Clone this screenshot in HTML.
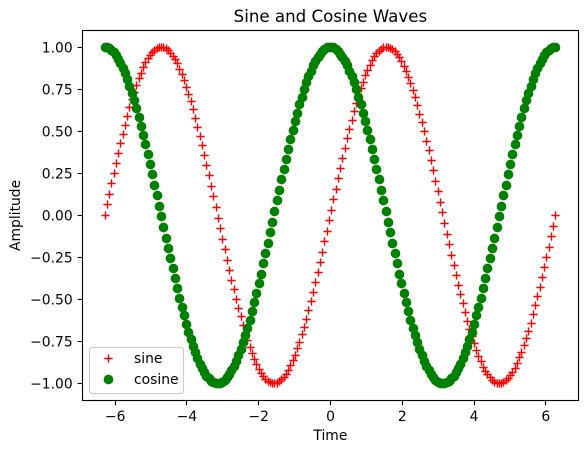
<!DOCTYPE html>
<html lang="en">
<head>
<meta charset="utf-8">
<title>Sine and Cosine Waves</title>
<style>
html,body{margin:0;padding:0;background:#fff;}
svg{display:block;font-family:"DejaVu Sans","Liberation Sans",sans-serif;}
text{fill:#000;font-size:13.89px;}
</style>
</head>
<body>
<svg id="chart" xmlns="http://www.w3.org/2000/svg" width="587" height="453" viewBox="0 0 587 453">
  <rect x="82.5" y="30.5" width="496" height="370" fill="#fff"/>
  <g id="sine-series"></g>
  <g id="cosine-series"></g>
  <g id="x-axis"></g>
  <g id="y-axis"></g>
  <rect x="82.5" y="30.5" width="496" height="370" fill="none" stroke="#000" stroke-width="1.11"/>
  <text x="330.4" y="22" text-anchor="middle" style="font-size:16.67px">Sine and Cosine Waves</text>
  <text x="330.4" y="440" text-anchor="middle">Time</text>
  <text transform="translate(20,215.4) rotate(-90)" text-anchor="middle">Amplitude</text>
  <g>
    <rect x="89.5" y="347.5" width="94" height="46" rx="2.8" ry="2.8" fill="#fff" fill-opacity="0.8" stroke="#ccc" stroke-width="1.11"/>
    <path d="M104.33 358.5H112.67M108.5 354.33V362.67" stroke="#f00" stroke-width="1.39" fill="none"/>
    <text x="134" y="363">sine</text>
    <circle cx="108.5" cy="379.5" r="4.86" fill="#008000"/>
    <text x="134" y="384">cosine</text>
  </g>
</svg>
<script>
const timeValues = [
-6.283,-6.220,-6.157,-6.094,-6.031,-5.968,-5.904,-5.841,-5.778,-5.715,
-5.652,-5.589,-5.525,-5.462,-5.399,-5.336,-5.273,-5.210,-5.147,-5.083,
-5.020,-4.957,-4.894,-4.831,-4.768,-4.705,-4.641,-4.578,-4.515,-4.452,
-4.389,-4.326,-4.262,-4.199,-4.136,-4.073,-4.010,-3.947,-3.884,-3.820,
-3.757,-3.694,-3.631,-3.568,-3.505,-3.442,-3.378,-3.315,-3.252,-3.189,
-3.126,-3.063,-2.999,-2.936,-2.873,-2.810,-2.747,-2.684,-2.621,-2.557,
-2.494,-2.431,-2.368,-2.305,-2.242,-2.178,-2.115,-2.052,-1.989,-1.926,
-1.863,-1.800,-1.736,-1.673,-1.610,-1.547,-1.484,-1.421,-1.358,-1.294,
-1.231,-1.168,-1.105,-1.042,-0.979,-0.915,-0.852,-0.789,-0.726,-0.663,
-0.600,-0.537,-0.473,-0.410,-0.347,-0.284,-0.221,-0.158,-0.095,-0.032,
0.032,0.095,0.158,0.221,0.284,0.347,0.410,0.473,0.537,0.600,
0.663,0.726,0.789,0.852,0.915,0.979,1.042,1.105,1.168,1.231,
1.294,1.358,1.421,1.484,1.547,1.610,1.673,1.736,1.800,1.863,
1.926,1.989,2.052,2.115,2.178,2.242,2.305,2.368,2.431,2.494,
2.557,2.621,2.684,2.747,2.810,2.873,2.936,2.999,3.063,3.126,
3.189,3.252,3.315,3.378,3.442,3.505,3.568,3.631,3.694,3.757,
3.820,3.884,3.947,4.010,4.073,4.136,4.199,4.262,4.326,4.389,
4.452,4.515,4.578,4.641,4.705,4.768,4.831,4.894,4.957,5.020,
5.083,5.147,5.210,5.273,5.336,5.399,5.462,5.525,5.589,5.652,
5.715,5.778,5.841,5.904,5.968,6.031,6.094,6.157,6.220,6.283
];
const sineValues = [
0,.063,.126,.188,.250,.311,.370,.428,.484,.538,
.590,.640,.687,.732,.773,.812,.847,.879,.907,.932,
.953,.970,.984,.993,.999,1.000,.998,.991,.981,.966,
.948,.926,.901,.871,.839,.803,.763,.721,.676,.628,
.578,.525,.470,.414,.355,.296,.235,.173,.110,.047,
-.016,-.079,-.142,-.204,-.265,-.326,-.385,-.442,-.498,-.551,
-.603,-.652,-.699,-.743,-.783,-.821,-.855,-.886,-.914,-.938,
-.958,-.974,-.986,-.995,-.999,-1.000,-.996,-.989,-.977,-.962,
-.943,-.920,-.894,-.863,-.830,-.793,-.753,-.710,-.664,-.616,
-.565,-.511,-.456,-.399,-.340,-.280,-.219,-.157,-.095,-.032,
.032,.095,.157,.219,.280,.340,.399,.456,.511,.565,
.616,.664,.710,.753,.793,.830,.863,.894,.920,.943,
.962,.977,.989,.996,1.000,.999,.995,.986,.974,.958,
.938,.914,.886,.855,.821,.783,.743,.699,.652,.603,
.551,.498,.442,.385,.326,.265,.204,.142,.079,.016,
-.047,-.110,-.173,-.235,-.296,-.355,-.414,-.470,-.525,-.578,
-.628,-.676,-.721,-.763,-.803,-.839,-.871,-.901,-.926,-.948,
-.966,-.981,-.991,-.998,-1.000,-.999,-.993,-.984,-.970,-.953,
-.932,-.907,-.879,-.847,-.812,-.773,-.732,-.687,-.640,-.590,
-.538,-.484,-.428,-.370,-.311,-.250,-.188,-.126,-.063,0
];
const cosineValues = [
1.000,.998,.992,.982,.968,.951,.929,.904,.875,.843,
.807,.768,.726,.682,.634,.584,.532,.477,.421,.363,
.303,.242,.181,.118,.055,-.008,-.071,-.134,-.196,-.258,
-.318,-.377,-.435,-.491,-.545,-.597,-.646,-.693,-.737,-.778,
-.816,-.851,-.883,-.911,-.935,-.955,-.972,-.985,-.994,-.999,
-1.000,-.997,-.990,-.979,-.964,-.946,-.923,-.897,-.867,-.834,
-.798,-.758,-.715,-.670,-.622,-.571,-.518,-.463,-.406,-.348,
-.288,-.227,-.165,-.102,-.040,.024,.087,.149,.212,.273,
.333,.392,.449,.505,.558,.609,.658,.704,.748,.788,
.825,.859,.890,.917,.940,.960,.976,.988,.996,.999,
.999,.996,.988,.976,.960,.940,.917,.890,.859,.825,
.788,.748,.704,.658,.609,.558,.505,.449,.392,.333,
.273,.212,.149,.087,.024,-.040,-.102,-.165,-.227,-.288,
-.348,-.406,-.463,-.518,-.571,-.622,-.670,-.715,-.758,-.798,
-.834,-.867,-.897,-.923,-.946,-.964,-.979,-.990,-.997,-1.000,
-.999,-.994,-.985,-.972,-.955,-.935,-.911,-.883,-.851,-.816,
-.778,-.737,-.693,-.646,-.597,-.545,-.491,-.435,-.377,-.318,
-.258,-.196,-.134,-.071,-.008,.055,.118,.181,.242,.303,
.363,.421,.477,.532,.584,.634,.682,.726,.768,.807,
.843,.875,.904,.929,.951,.968,.982,.992,.998,1.000
];
const xTickValues = [-6,-4,-2,0,2,4,6];
const xTickLabels = ["\u22126","\u22124","\u22122","0","2","4","6"];
const yTickValues = [-1,-0.75,-0.5,-0.25,0,0.25,0.5,0.75,1];
const yTickLabels = ["\u22121.00","\u22120.75","\u22120.50","\u22120.25","0.00","0.25","0.50","0.75","1.00"];

const NS = "http://www.w3.org/2000/svg";
const plotLeft = 82.5, plotRight = 578.5, plotTop = 30.5, plotBottom = 400.5;
const xMin = -6.9115, xMax = 6.9115, yMin = -1.1, yMax = 1.1;
function xScale(v){ return plotLeft + (v - xMin) / (xMax - xMin) * (plotRight - plotLeft); }
function yScale(v){ return plotBottom - (v - yMin) / (yMax - yMin) * (plotBottom - plotTop); }
function snap(p){ return Math.round(p - 0.5) + 0.5; }
function snapMarker(p){ return Math.floor(p) + 0.5; }

const sineGroup = document.getElementById("sine-series");
const cosineGroup = document.getElementById("cosine-series");
const xAxis = document.getElementById("x-axis");
const yAxis = document.getElementById("y-axis");
const arm = 4.17;

sineValues.forEach(function(v, i){
  const cx = snapMarker(xScale(timeValues[i])), cy = snapMarker(yScale(v));
  const el = document.createElementNS(NS, "path");
  el.setAttribute("d", "M" + (cx - arm) + " " + cy + "H" + (cx + arm) + "M" + cx + " " + (cy - arm) + "V" + (cy + arm));
  el.setAttribute("stroke", "#f00");
  el.setAttribute("stroke-width", "1.39");
  el.setAttribute("fill", "none");
  
  
  sineGroup.appendChild(el);
});

cosineValues.forEach(function(v, i){
  const el = document.createElementNS(NS, "circle");
  el.setAttribute("cx", snapMarker(xScale(timeValues[i])));
  el.setAttribute("cy", snapMarker(yScale(v)));
  el.setAttribute("r", "4.86");
  el.setAttribute("fill", "#008000");
  
  
  cosineGroup.appendChild(el);
});

xTickValues.forEach(function(v, i){
  const px = snap(xScale(v));
  const tick = document.createElementNS(NS, "line");
  tick.setAttribute("x1", px);
  tick.setAttribute("x2", px);
  tick.setAttribute("y1", plotBottom);
  tick.setAttribute("y2", plotBottom + 4.86);
  tick.setAttribute("stroke", "#000");
  tick.setAttribute("stroke-width", "1.11");
  
  
  xAxis.appendChild(tick);
  const label = document.createElementNS(NS, "text");
  label.setAttribute("x", xScale(v));
  label.setAttribute("y", 421);
  label.setAttribute("text-anchor", "middle");
  label.textContent = xTickLabels[i];
  
  
  xAxis.appendChild(label);
});

yTickValues.forEach(function(v, i){
  const py = snap(yScale(v));
  const tick = document.createElementNS(NS, "line");
  tick.setAttribute("x1", plotLeft - 4.86);
  tick.setAttribute("x2", plotLeft);
  tick.setAttribute("y1", py);
  tick.setAttribute("y2", py);
  tick.setAttribute("stroke", "#000");
  tick.setAttribute("stroke-width", "1.11");
  
  
  yAxis.appendChild(tick);
  const label = document.createElementNS(NS, "text");
  label.setAttribute("x", 72.7);
  label.setAttribute("y", yScale(v) + 5);
  label.setAttribute("text-anchor", "end");
  label.textContent = yTickLabels[i];
  
  
  yAxis.appendChild(label);
});
</script>
</body>
</html>
